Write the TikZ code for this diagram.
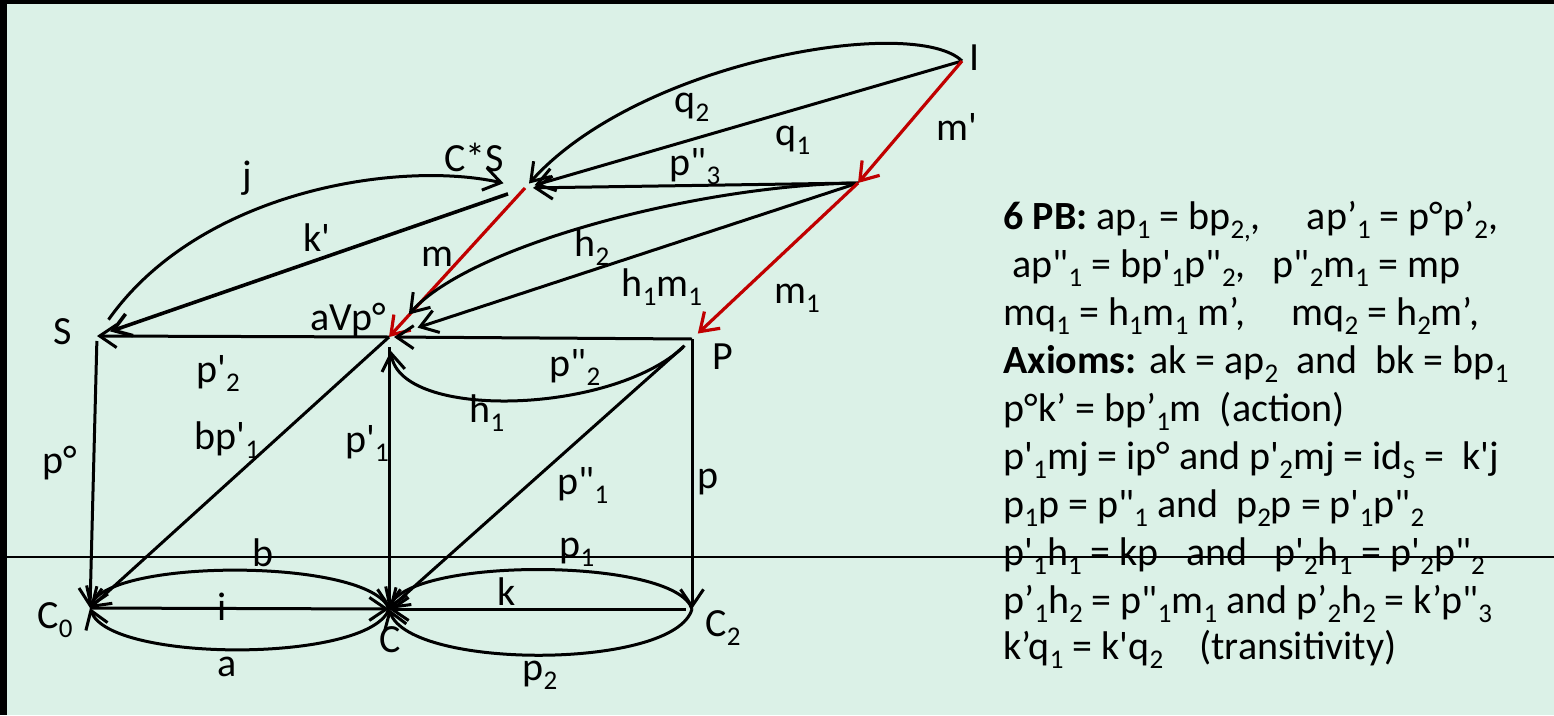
\documentclass[tikz,border=0pt]{standalone}
\usepackage{fontspec}
\usepackage{xcolor}
\newfontfamily\calib{Carlito}[Ligatures=TeXOff]
\usetikzlibrary{arrows.meta}
\definecolor{bgreen}{RGB}{219,241,231}
\definecolor{pptred}{RGB}{192,0,0}
\newcommand\sub[1]{\raisebox{-9pt}{\fontsize{27pt}{27pt}\selectfont #1}}

\begin{document}
\begin{tikzpicture}[x=1pt,y=-1pt,line width=3pt,
  every node/.style={font=\calib\fontsize{40pt}{48pt}\selectfont,inner sep=0pt},
  arr/.style={-{Straight Barb[length=17pt,width=23pt]}},
  redarr/.style={arr,draw=pptred,line width=3.2pt}]
  \useasboundingbox (0,0) rectangle (1554,715);
  \fill[bgreen] (0,0) rectangle (1554,715);
  \fill[black] (0,0) rectangle (7,715);
  \fill[black] (0,0) rectangle (1554,4);
  % objects
  \coordinate (I)  at (962,61);
  \coordinate (X)  at (858,183);
  \coordinate (CS) at (525,188);
  \coordinate (S)  at (97,336);
  \coordinate (aV) at (389,337);
  \coordinate (P)  at (692,339);
  \coordinate (C0) at (90,608);
  \coordinate (C)  at (389,609);
  \coordinate (C2) at (692,609);
  % arrows
  \draw[arr,shorten >=6pt] (I) .. controls (915,15) and (640,60) .. (CS);
  \draw[arr,shorten >=10pt] (I) -- (CS);
  \draw[redarr] (I) -- (X);
  \draw[arr,shorten >=8pt] (X) -- (CS);
  \draw[arr,shorten <=20pt,shorten >=22pt] (S) .. controls (200,190) and (400,160) .. (CS);
  \draw[arr,line width=3.6pt,shorten <=18pt,shorten >=14pt] (CS) -- (S);
  \draw[redarr] (CS) -- (aV);
  \draw[arr,shorten >=30pt] (X) .. controls (700,185) and (470,245) .. (aV);
  \draw[arr,shorten >=30pt] (X) -- (aV);
  \draw[redarr,shorten >=8pt] (X) -- (P);
  \draw[arr,shorten >=5pt] (P) -- (aV);
  \draw[arr,shorten <=12pt,shorten >=14pt] (P) .. controls (610,415) and (400,420) .. (aV);
  \draw[arr,shorten <=10pt] (P) -- (C);
  \draw[arr] (P) -- (C2);
  \draw[arr] (aV) -- (S);
  \draw[arr] (aV) -- (C0);
  \draw[arr,shorten <=10pt] (aV) -- (C);
  \draw[arr,shorten <=5pt] (S) -- (C0);
  \draw[arr] (C) .. controls (370,558) and (110,558) .. (C0);
  \draw[arr] (C) .. controls (370,663) and (110,663) .. (C0);
  \draw[arr] (C0) -- (C);
  \draw[arr] (C2) .. controls (675,557) and (410,557) .. (C);
  \draw[arr,shorten <=6pt] (C2) -- (C);
  \draw[arr] (C2) .. controls (675,670) and (410,670) .. (C);
  % object labels
  \node (lI)  at (975,58)  {I};
  \node (lCS) at (474,157) {C*S};
  \node (lS)  at (63,332)  {S};
  \node (laV) at (348,320) {aVp°};
  \node (lP)  at (723,357) {P};
  \node (lC0) at (55,620)  {C\sub{0}};
  \node (lC)  at (390,640) {C};
  \node (lC2) at (723,628) {C\sub{2}};
  % arrow labels
  \node (lq2)  at (692,107) {q\sub{2}};
  \node (lq1)  at (793,140) {q\sub{1}};
  \node (lmp)  at (957,127) {m'};
  \node (lp3)  at (695,167) {p"\sub{3}};
  \node (lj)   at (247,178) {j};
  \node (lkp)  at (317,238) {k'};
  \node (lm)   at (437,257) {m};
  \node (lh2)  at (592,247) {h\sub{2}};
  \node (lh1m1) at (662,287) {h\sub{1}m\sub{1}};
  \node (lm1)  at (797,298) {m\sub{1}};
  \node (lp2p) at (218,373) {p'\sub{2}};
  \node (lp2pp) at (575,367) {p"\sub{2}};
  \node (lh1)  at (487,413) {h\sub{1}};
  \node (lpo)  at (60,463)  {p°};
  \node (lbp)  at (227,440) {bp'\sub{1}};
  \node (lp1p) at (367,443) {p'\sub{1}};
  \node (lp1pp) at (583,485) {p"\sub{1}};
  \node (lp)   at (708,482) {p};
  \node (lb)   at (263,553) {b};
  \node (li)   at (222,607) {i};
  \node (la)   at (227,667) {a};
  \node (lp1)  at (577,552) {p\sub{1}};
  \node (lk)   at (507,592) {k};
  \node (lp2)  at (540,675) {p\sub{2}};
  % equations
  \node[anchor=base west] (t1)  at (1002,229) {\textbf{6 PB:} ap\sub{1} = bp\sub{2,},\hspace{46pt}ap’\sub{1} = p°p’\sub{2},};
  \node[anchor=base west] (t2)  at (1011,277) {ap"\sub{1} = bp'\sub{1}p"\sub{2},\ \ \ p"\sub{2}m\sub{1} = mp};
  \node[anchor=base west] (t3)  at (1002,325) {mq\sub{1} = h\sub{1}m\sub{1} m’,\hspace{46pt}mq\sub{2} = h\sub{2}m’,};
  \node[anchor=base west] (t4)  at (1002,373) {\textbf{Axioms:} ak = ap\sub{2}\ \ and\ \ bk = bp\sub{1}};
  \node[anchor=base west] (t5)  at (1002,421) {p°k’ = bp’\sub{1}m\ \ (action)};
  \node[anchor=base west] (t6)  at (1002,469) {p'\sub{1}mj = ip° and p'\sub{2}mj = id\sub{S} =\ \ k'j};
  \node[anchor=base west] (t7)  at (1002,517) {p\sub{1}p = p"\sub{1} and\ \ p\sub{2}p = p'\sub{1}p"\sub{2}};
  \node[anchor=base west] (t8)  at (1002,565) {p'\sub{1}h\sub{1} = kp\ \ \ and\ \ \ p'\sub{2}h\sub{1} = p'\sub{2}p"\sub{2}};
  \node[anchor=base west] (t9)  at (1002,613) {p’\sub{1}h\sub{2} = p"\sub{1}m\sub{1} and p’\sub{2}h\sub{2} = k’p"\sub{3}};
  \node[anchor=base west] (t10) at (1002,659) {k’q\sub{1} = k'q\sub{2}\ \ \ \ (transitivity)};
  \draw[line width=1.2pt] (7,557) -- (1554,557);
\end{tikzpicture}
\end{document}
